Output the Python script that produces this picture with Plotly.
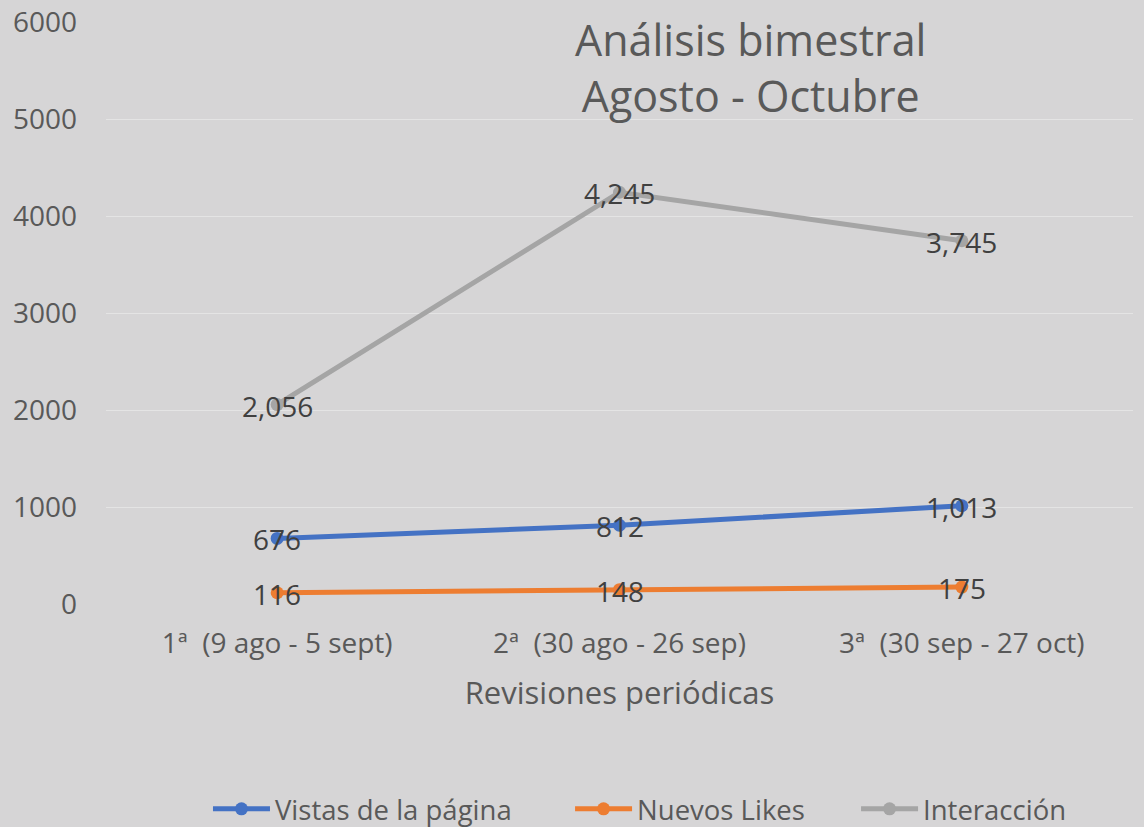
import plotly.graph_objects as go

categories = ["1ª  (9 ago - 5 sept)", "2ª  (30 ago - 26 sep)", "3ª  (30 sep - 27 oct)"]
vistas = [676, 812, 1013]
likes = [116, 148, 175]
interaccion = [2056, 4245, 3745]
series_names = ["Vistas de la página", "Nuevos Likes", "Interacción"]
y_ticks = [0, 1000, 2000, 3000, 4000, 5000, 6000]
title_lines = ["Análisis bimestral", "Agosto - Octubre"]
x_title = "Revisiones periódicas"

colors = ["#4472C4", "#ED7D31", "#A5A5A5"]
FONT = "Open Sans"
BG = "#d6d5d6"
legend_ids = ["legend", "legend2", "legend3"]
legend_x = [0.1818, 0.4983, 0.7483]

fig = go.Figure()
label_annotations = []
for name, vals, col, lid in zip(series_names, [vistas, likes, interaccion], colors, legend_ids):
    fig.add_trace(go.Scatter(
        x=categories, y=vals, name=name, mode="lines+markers",
        line=dict(color=col, width=5),
        marker=dict(color=col, size=13),
        legend=lid,
    ))
    for c, v in zip(categories, vals):
        label_annotations.append(dict(
            x=c, y=v, xref="x", yref="y", text=f"{v:,}", showarrow=False,
            xanchor="center", yanchor="middle", yshift=-1,
            font=dict(family=FONT, size=28, color="#404040"),
        ))

legend_common = dict(
    orientation="h", xref="container", yref="container",
    xanchor="left", y=0.0218, yanchor="middle",
    font=dict(family=FONT, size=27.5, color="#595959"),
    bgcolor="rgba(0,0,0,0)", itemwidth=57,
)

title_annotation = dict(
    text="<br>".join(title_lines), xref="paper", yref="paper",
    x=0.628, y=0.922, xanchor="center", yanchor="middle",
    showarrow=False, font=dict(family=FONT, size=43, color="#595959"),
)

fig.update_layout(
    width=1144, height=827,
    margin=dict(l=106, r=11, t=22, b=223),
    paper_bgcolor=BG,
    plot_bgcolor=BG,
    font=dict(family=FONT, color="#595959"),
    annotations=[title_annotation] + label_annotations,
    legend=dict(x=legend_x[0], **legend_common),
    legend2=dict(x=legend_x[1], **legend_common),
    legend3=dict(x=legend_x[2], **legend_common),
    showlegend=True,
)
fig.update_xaxes(
    type="category", range=[-0.5, 2.5], showgrid=False, zeroline=False,
    showline=False, ticks="", ticklabelstandoff=20, automargin=False,
    tickfont=dict(family=FONT, size=28, color="#595959"),
    title=dict(text=x_title, standoff=22,
               font=dict(family=FONT, size=31, color="#595959")),
)
fig.update_yaxes(
    range=[0, 6000], tickvals=y_ticks, ticktext=[str(v) for v in y_ticks],
    showgrid=True, gridcolor="#e4e4e4", gridwidth=1, zeroline=False,
    showline=False, ticks="", ticklabelstandoff=28, automargin=False,
    tickfont=dict(family=FONT, size=28, color="#595959"),
)

fig.write_html("out.html", config={"displayModeBar": False},
               post_script="document.body.style.margin='0';document.body.style.overflow='hidden';")
